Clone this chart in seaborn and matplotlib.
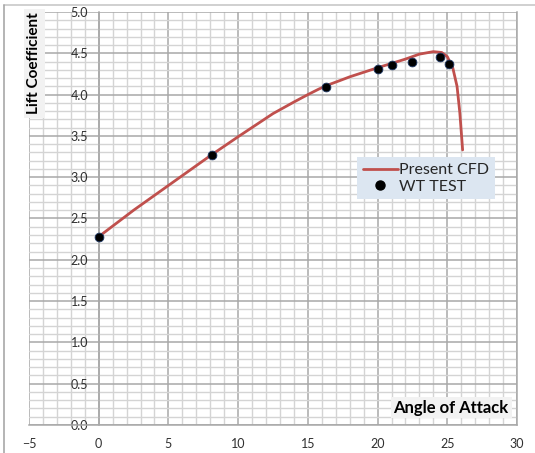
import matplotlib
matplotlib.use("Agg")
import matplotlib.pyplot as plt
from matplotlib.ticker import MultipleLocator, FormatStrFormatter
from matplotlib.lines import Line2D
import numpy as np
import seaborn as sns

# CFD curve
cfd_alpha = [0, 2.5, 5, 8, 10, 12.5, 14, 15, 15.8, 16.5, 17.3, 18, 19, 20, 22, 23, 24, 24.6, 25, 25.4, 25.7, 25.9, 26.1]
cfd_cl = [2.28, 2.60, 2.90, 3.26, 3.49, 3.77, 3.91, 4.00, 4.068, 4.12, 4.17, 4.215, 4.27, 4.325,
          4.43, 4.49, 4.52, 4.51, 4.46, 4.32, 4.10, 3.78, 3.33]

# wind tunnel points
wt_alpha = [0, 8.1, 16.3, 20.0, 21.0, 22.5, 24.5, 25.1]
wt_cl = [2.28, 3.27, 4.09, 4.31, 4.36, 4.39, 4.45, 4.37]

sns.set_style("white")
plt.rcParams['font.family'] = ['Lato', 'DejaVu Sans']

fig = plt.figure(figsize=(5.35, 4.53), dpi=100)
ax = fig.add_axes([29 / 535, 1 - 425 / 453, (517 - 29) / 535, (425 - 12) / 453])

ax.set_xlim(-5, 30)
ax.set_ylim(0, 5)
ax.xaxis.set_major_locator(MultipleLocator(5))
ax.xaxis.set_minor_locator(MultipleLocator(1))
ax.yaxis.set_major_locator(MultipleLocator(0.5))
ax.yaxis.set_minor_locator(MultipleLocator(0.1))
ax.yaxis.set_major_formatter(FormatStrFormatter('%.1f'))
ax.grid(which='major', color='#a8a8a8', linewidth=1.1)
ax.grid(which='minor', color='#d4d4d4', linewidth=1.0)
ax.set_axisbelow(True)

for s in ['top', 'right', 'bottom', 'left']:
    ax.spines[s].set_color('#a8a8a8')
    ax.spines[s].set_linewidth(1.1)
ax.spines['left'].set_position(('data', 0))
ax.spines['top'].set_visible(False)

ax.tick_params(axis='both', which='major', labelsize=9, colors='#a0a0a0', labelcolor='#303030', length=4, width=1)
ax.tick_params(axis='both', which='minor', length=2, colors='#c8c8c8')
ax.tick_params(axis='x', pad=5)

sns.lineplot(x=cfd_alpha, y=cfd_cl, ax=ax, color='#c0504d', linewidth=2.0, sort=False)
sns.scatterplot(x=wt_alpha, y=wt_cl, ax=ax, color='black', edgecolor='#1f3864', s=40, linewidth=0.6, zorder=5)

ax.set_xlabel('')
ax.set_ylabel('')

ax.text(0.011, 0.876, 'Lift Coefficient', transform=ax.transAxes, rotation=90,
        ha='center', va='center', fontsize=11, fontweight='bold', color='black',
        bbox=dict(facecolor='#f2f2f2', edgecolor='none', pad=2.5))
ax.text(0.865, 0.042, 'Angle of Attack', transform=ax.transAxes,
        ha='center', va='center', fontsize=12, fontweight='bold', color='black',
        bbox=dict(facecolor='#f2f2f2', edgecolor='none', pad=2))

handles = [Line2D([], [], color='#c0504d', linewidth=2.0),
           Line2D([], [], color='black', marker='o', linestyle='none', markersize=6.5)]
leg = ax.legend(handles, ['Present CFD', 'WT TEST'], loc='upper left',
                bbox_to_anchor=(0.672, 0.648), fontsize=11.5, frameon=True,
                fancybox=False, handlelength=2.2, handletextpad=0.1,
                borderpad=0.35, labelspacing=0.15, borderaxespad=0)
leg.get_frame().set_facecolor('#dce6f1')
leg.get_frame().set_edgecolor('none')
leg.get_frame().set_alpha(1)

# outer chart frame (top and left edges visible)
fig.add_artist(Line2D([4 / 535, 1], [1 - 5 / 453, 1 - 5 / 453], color='#c8c8c8', linewidth=1.2))
fig.add_artist(Line2D([4 / 535, 4 / 535], [0, 1 - 5 / 453], color='#a8a8a8', linewidth=1.2))

fig.savefig('out.png', dpi=100)
